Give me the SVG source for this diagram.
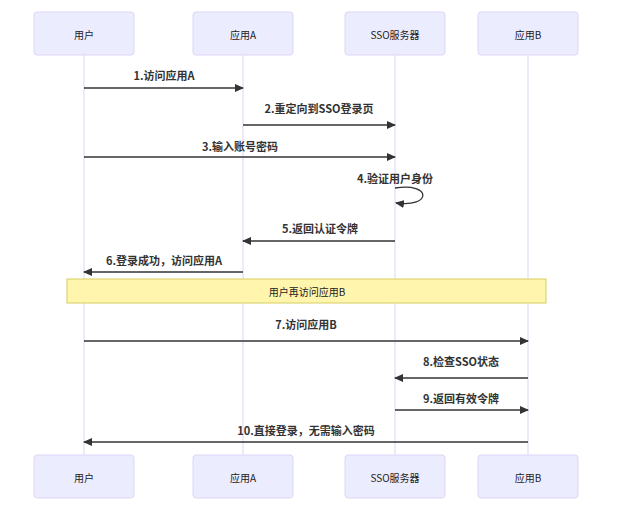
<svg xmlns="http://www.w3.org/2000/svg" width="621" height="511" viewBox="0 0 621 511">
<style>
.actor{fill:#ECECFF;stroke:#ddd5f7;stroke-width:1}
.atext{font-family:"Noto Sans CJK SC","Liberation Sans",sans-serif;font-size:10px;fill:#222;text-anchor:middle;dominant-baseline:central}
.life{stroke:#ddd5f7;stroke-width:1}
.msg{stroke:#333;stroke-width:1.3;fill:none}
.mtext{font-family:"Noto Sans CJK SC","Liberation Sans",sans-serif;font-size:11px;font-weight:bold;fill:#333;text-anchor:middle;dominant-baseline:central}
.note{fill:#fff5ad;stroke:#d6ce63;stroke-width:1}
</style>
<defs>
<marker id="ah" markerWidth="9" markerHeight="8" refX="8" refY="4" orient="auto" markerUnits="userSpaceOnUse">
<path d="M0,0 L9,4 L0,8 Z" fill="#333"/>
</marker>
</defs>
<rect width="621" height="511" fill="#fff"/>
<g id="lifelines">
<line class="life" x1="84" y1="55" x2="84" y2="455"/>
<line class="life" x1="243" y1="55" x2="243" y2="455"/>
<line class="life" x1="395" y1="55" x2="395" y2="455"/>
<line class="life" x1="528" y1="55" x2="528" y2="455"/>
</g>
<g id="actor-user-top"><rect class="actor" x="34" y="12" width="100" height="43" rx="3"/><text class="atext" x="84" y="34">用户</text></g>
<g id="actor-appA-top"><rect class="actor" x="193" y="12" width="100" height="43" rx="3"/><text class="atext" x="243" y="34">应用A</text></g>
<g id="actor-sso-top"><rect class="actor" x="345" y="12" width="100" height="43" rx="3"/><text class="atext" x="395" y="34">SSO服务器</text></g>
<g id="actor-appB-top"><rect class="actor" x="478" y="12" width="100" height="43" rx="3"/><text class="atext" x="528" y="34">应用B</text></g>
<g id="actor-user-bottom"><rect class="actor" x="34" y="455" width="100" height="43" rx="3"/><text class="atext" x="84" y="477">用户</text></g>
<g id="actor-appA-bottom"><rect class="actor" x="193" y="455" width="100" height="43" rx="3"/><text class="atext" x="243" y="477">应用A</text></g>
<g id="actor-sso-bottom"><rect class="actor" x="345" y="455" width="100" height="43" rx="3"/><text class="atext" x="395" y="477">SSO服务器</text></g>
<g id="actor-appB-bottom"><rect class="actor" x="478" y="455" width="100" height="43" rx="3"/><text class="atext" x="528" y="477">应用B</text></g>
<g id="note"><rect class="note" x="67" y="279" width="479" height="24"/><text class="atext" x="307" y="291">用户再访问应用B</text></g>
<g id="connectors">
<line class="msg" x1="84" y1="88" x2="243" y2="88" marker-end="url(#ah)"/>
<line class="msg" x1="243" y1="125" x2="395" y2="125" marker-end="url(#ah)"/>
<line class="msg" x1="84" y1="157" x2="395" y2="157" marker-end="url(#ah)"/>
<path class="msg" d="M395,188 C432,182 432,208 396,203" marker-end="url(#ah)"/>
<line class="msg" x1="395" y1="241" x2="243" y2="241" marker-end="url(#ah)"/>
<line class="msg" x1="243" y1="272" x2="84" y2="272" marker-end="url(#ah)"/>
<line class="msg" x1="84" y1="341" x2="528" y2="341" marker-end="url(#ah)"/>
<line class="msg" x1="528" y1="378" x2="395" y2="378" marker-end="url(#ah)"/>
<line class="msg" x1="395" y1="410" x2="528" y2="410" marker-end="url(#ah)"/>
<line class="msg" x1="528" y1="442" x2="84" y2="442" marker-end="url(#ah)"/>
</g>
<g id="labels">
<text class="mtext" x="164" y="75">1.访问应用A</text>
<text class="mtext" x="319" y="108">2.重定向到SSO登录页</text>
<text class="mtext" x="240" y="146">3.输入账号密码</text>
<text class="mtext" x="395" y="178">4.验证用户身份</text>
<text class="mtext" x="320" y="228">5.返回认证令牌</text>
<text class="mtext" x="164" y="260">6.登录成功，访问应用A</text>
<text class="mtext" x="306" y="324">7.访问应用B</text>
<text class="mtext" x="461" y="361">8.检查SSO状态</text>
<text class="mtext" x="461" y="398">9.返回有效令牌</text>
<text class="mtext" x="306" y="430">10.直接登录，无需输入密码</text>
</g>
</svg>
